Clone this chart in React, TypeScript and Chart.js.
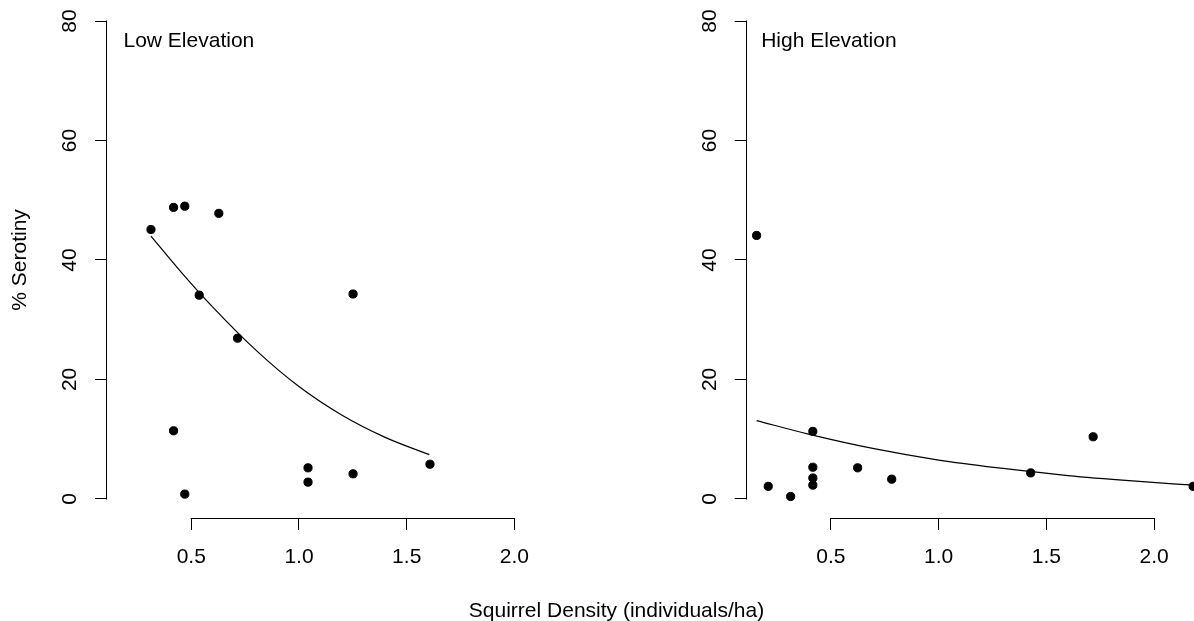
import React, { useEffect, useRef } from "react";
import { Chart, registerables } from "chart.js";

Chart.register(...registerables);

const FONT = "'Liberation Sans', Arial, Helvetica, sans-serif";

// Axis ticks
const xTicks = [0.5, 1.0, 1.5, 2.0];
const yTicks = [0, 20, 40, 60, 80];

// Low elevation observations
const lowX = [0.313, 0.418, 0.47, 0.628, 0.537, 0.715, 1.251, 0.418, 0.47, 1.042, 1.042, 1.251, 1.608];
const lowY = [45.1, 48.8, 49.0, 47.8, 34.1, 26.9, 34.3, 11.4, 0.8, 5.2, 2.8, 4.2, 5.8];

// Low elevation fitted curve
const lowFitX = [0.313, 0.45, 0.6, 0.8, 1.0, 1.2, 1.4, 1.605];
const lowFitY = [44.0, 38.1, 32.1, 24.9, 18.8, 14.0, 10.3, 7.4];

// High elevation observations
const highX = [0.155, 0.209, 0.313, 0.416, 0.416, 0.416, 0.416, 0.624, 0.782, 1.427, 1.717, 2.181];
const highY = [44.1, 2.1, 0.4, 11.3, 5.3, 3.5, 2.3, 5.2, 3.3, 4.35, 10.4, 2.1];

// High elevation fitted curve
const highFitX = [0.155, 0.4, 0.7, 1.0, 1.3, 1.6, 1.9, 2.181];
const highFitY = [13.1, 10.8, 8.4, 6.5, 5.1, 3.9, 3.0, 2.3];

const X_MIN = 0.109;
const X_MAX = 2.185;
const Y_MIN = -3.2;
const Y_MAX = 83.2;

const zip = (xs: number[], ys: number[]) => xs.map((x, i) => ({ x, y: ys[i] }));

const axisLines = {
  id: "axisLines",
  afterDraw(chart: any) {
    const { ctx, chartArea, scales } = chart;
    const xs = scales.x;
    const ys = scales.y;
    ctx.save();
    ctx.strokeStyle = "#000";
    ctx.lineWidth = 1;
    ctx.beginPath();
    const lx = Math.round(chartArea.left) - 0.5;
    const y0 = Math.round(ys.getPixelForValue(yTicks[0])) + 0.5;
    const y1 = Math.round(ys.getPixelForValue(yTicks[yTicks.length - 1])) - 0.5;
    ctx.moveTo(lx, y0);
    ctx.lineTo(lx, y1);
    const by = Math.round(chartArea.bottom) + 0.5;
    const x0 = Math.round(xs.getPixelForValue(xTicks[0])) - 0.5;
    const x1 = Math.round(xs.getPixelForValue(xTicks[xTicks.length - 1])) + 0.5;
    ctx.moveTo(x0, by);
    ctx.lineTo(x1, by);
    ctx.stroke();
    ctx.restore();
  },
};

const panelTitle = {
  id: "panelTitle",
  afterDraw(chart: any, _args: any, opts: any) {
    const { ctx, chartArea } = chart;
    ctx.save();
    ctx.font = `21px ${FONT}`;
    ctx.fillStyle = "#000";
    ctx.textAlign = "left";
    ctx.textBaseline = "alphabetic";
    ctx.fillText(opts.text, chartArea.left + opts.dx, opts.baseline);
    ctx.restore();
  },
};

interface PanelProps {
  title: string;
  titleDx: number;
  px: number[];
  py: number[];
  fx: number[];
  fy: number[];
  yAxisWidth: number;
  padRight: number;
  showYTitle: boolean;
  left: number;
}

function Panel(p: PanelProps) {
  const ref = useRef<HTMLCanvasElement | null>(null);
  useEffect(() => {
    if (!ref.current) return;
    const tickFont = { size: 21, family: FONT };
    const chart = new Chart(ref.current, {
      type: "scatter",
      data: {
        datasets: [
          {
            data: zip(p.fx, p.fy),
            showLine: true,
            pointRadius: 0,
            borderColor: "#000",
            borderWidth: 1.2,
            tension: 0.4,
            cubicInterpolationMode: "monotone",
            clip: false,
          } as any,
          {
            data: zip(p.px, p.py),
            showLine: false,
            pointRadius: 4.1,
            pointBorderWidth: 1,
            pointBackgroundColor: "#000",
            pointBorderColor: "#000",
            clip: false,
          } as any,
        ],
      },
      options: {
        animation: false,
        responsive: false,
        devicePixelRatio: 1,
        events: [],
        layout: { autoPadding: false, padding: { left: 0, top: 1.9, right: p.padRight, bottom: 0 } },
        plugins: {
          legend: { display: false },
          tooltip: { enabled: false },
          panelTitle: { text: p.title, dx: p.titleDx, baseline: 46.7 },
        } as any,
        scales: {
          x: {
            type: "linear",
            min: X_MIN,
            max: X_MAX,
            afterBuildTicks: (s: any) => {
              s.ticks = xTicks.map((v) => ({ value: v }));
            },
            afterFit: (s: any) => {
              s.height = 103;
              s.paddingLeft = 0;
              s.paddingRight = 0;
            },
            grid: { drawOnChartArea: false, drawTicks: true, tickLength: 12, color: "#000", lineWidth: 1 },
            border: { display: false },
            ticks: {
              autoSkip: false,
              minRotation: 0,
              maxRotation: 0,
              padding: 15,
              color: "#000",
              font: tickFont,
              callback: (v: any) => Number(v).toFixed(1),
            },
          },
          y: {
            type: "linear",
            min: Y_MIN,
            max: Y_MAX,
            afterBuildTicks: (s: any) => {
              s.ticks = yTicks.map((v) => ({ value: v }));
            },
            afterFit: (s: any) => {
              s.width = p.yAxisWidth;
              s.paddingTop = 0;
              s.paddingBottom = 0;
            },
            grid: { drawOnChartArea: false, drawTicks: true, tickLength: 12, color: "#000", lineWidth: 1 },
            border: { display: false },
            ticks: {
              autoSkip: false,
              minRotation: 90,
              maxRotation: 90,
              crossAlign: "center",
              padding: 13,
              color: "#000",
              font: tickFont,
              callback: (v: any) => String(v),
            },
            title: {
              display: p.showYTitle,
              text: "% Serotiny",
              color: "#000",
              font: tickFont,
              padding: { top: 8, bottom: 0 },
            },
          },
        },
      } as any,
      plugins: [axisLines, panelTitle],
    });
    return () => chart.destroy();
  }, []);
  return (
    <canvas
      ref={ref}
      width={597}
      height={621}
      style={{ position: "absolute", left: p.left, top: 0, width: 597, height: 621 }}
    />
  );
}

export default function App() {
  return (
    <div
      style={{
        position: "fixed",
        left: 0,
        top: 0,
        width: 1194,
        height: 621,
        overflow: "hidden",
        background: "#fff",
      }}
    >
      <Panel
        title="Low Elevation"
        titleDx={16.5}
        px={lowX}
        py={lowY}
        fx={lowFitX}
        fy={lowFitY}
        yAxisWidth={107}
        padRight={42.7}
        showYTitle={true}
        left={0}
      />
      <Panel
        title="High Elevation"
        titleDx={14.5}
        px={highX}
        py={highY}
        fx={highFitX}
        fy={highFitY}
        yAxisWidth={149.7}
        padRight={0}
        showYTitle={false}
        left={597}
      />
      <div
        style={{
          position: "absolute",
          left: 316.5,
          width: 600,
          top: 599.2,
          textAlign: "center",
          fontFamily: FONT,
          fontSize: 21,
          lineHeight: "21px",
          color: "#000",
          whiteSpace: "nowrap",
        }}
      >
        Squirrel Density (individuals/ha)
      </div>
    </div>
  );
}
